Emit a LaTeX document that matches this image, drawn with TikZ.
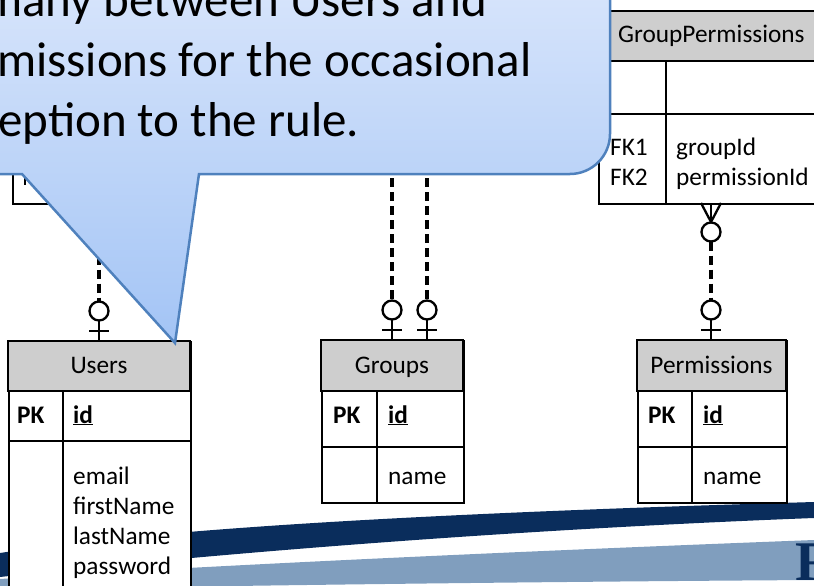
\documentclass[tikz,border=0pt]{standalone}
\usepackage{fontspec}
\setmainfont{Carlito}
\newfontfamily\serifF{Liberation Serif}
\usetikzlibrary{calc}
\definecolor{calloutBorder}{RGB}{79,129,189}
\definecolor{calloutTop}{RGB}{230,238,253}
\definecolor{calloutBot}{RGB}{163,196,245}
\definecolor{navy}{RGB}{10,45,92}
\definecolor{steel}{RGB}{128,158,190}
\definecolor{hdr}{RGB}{206,206,206}
\newcommand\ZeroOne[2]{%
  \draw[sym] (#1,#2) -- (#1,#2-20.5);
  \draw[sym] (#1-10,#2-10) -- (#1+10,#2-10);
  \draw[sym, fill=white] (#1,#2-30) circle[radius=9.5pt];
}
\newcommand\ZeroMany[2]{%
  \draw[sym] (#1-10,#2) -- (#1,#2+19);
  \draw[sym] (#1,#2) -- (#1,#2+19.5);
  \draw[sym] (#1+10,#2) -- (#1,#2+19);
  \draw[sym, fill=white] (#1,#2+29) circle[radius=9.5pt];
}
\begin{document}
\begin{tikzpicture}[x=1pt,y=-1pt,
  tline/.style={line width=1.6pt, draw=black},
  tblbox/.style={tline, fill=white, rectangle, inner sep=0pt, anchor=north west},
  conn/.style={line width=3.4pt, dash pattern=on 9pt off 5pt},
  sym/.style={line width=2.3pt},
  cell/.style={font=\fontsize{25.3}{30}\selectfont, inner sep=0pt, anchor=base west},
  hcell/.style={font=\fontsize{25.3}{30}\selectfont, inner sep=0pt, anchor=base},
  big/.style={font=\fontsize{49}{58}\selectfont, inner sep=0pt, anchor=base west}]
\useasboundingbox (0,0) rectangle (814,586);
\clip (0,0) rectangle (814,586);

% background swoosh
\fill[steel] (0,579) .. controls (200,566) and (500,552) .. (814,540)
  -- (814,580) .. controls (500,582) and (200,586) .. (0,590) -- cycle;
\fill[navy] (0,553) .. controls (150,530) and (400,514) .. (814,502)
  -- (814,518) .. controls (500,530) and (200,555) .. (0,577) -- cycle;
\node[anchor=base west, inner sep=0pt, text=navy, font=\serifF\bfseries\fontsize{56}{60}\selectfont] (logoF) at (795,580) {F};

% hidden table (under callout)
\node[tblbox, minimum width=174pt, minimum height=192pt] (ug) at (12,11) {};
\draw[line width=2pt] (25,176) -- (25,185);

% GroupPermissions
\node[tblbox, minimum width=232pt, minimum height=192pt] (gp) at (598,11) {};
\filldraw[tline, fill=hdr] (598,11) rectangle (830,61);
\draw[tline] (598,114) -- (830,114);
\draw[tline] (666,61) -- (666,203);
\node[cell] at (618,43) {GroupPermissions};
\node[cell] at (610,155) {FK1};
\node[cell] at (610,185) {FK2};
\node[cell] at (676,155) {groupId};
\node[cell] at (676,185) {permissionId};

% Users
\node[tblbox, minimum width=182pt, minimum height=320pt] (users) at (8,341) {};
\filldraw[tline, fill=hdr] (8,341) rectangle (190,391);
\draw[tline] (8,441) -- (190,441);
\draw[tline] (63,391) -- (63,661);
\node[hcell] at (99,373) {Users};
\node[cell] at (17,423) {\bfseries PK};
\node[cell] at (73,423) {\bfseries\underline{id}};
\node[cell] at (73,484) {email};
\node[cell] at (73,514) {firstName};
\node[cell] at (73,544) {lastName};
\node[cell] at (73,574) {password};

% Groups
\node[tblbox, minimum width=142pt, minimum height=162pt] (groups) at (321,340) {};
\filldraw[tline, fill=hdr] (321,340) rectangle (463,391);
\draw[tline] (321,447) -- (463,447);
\draw[tline] (377,391) -- (377,502);
\node[hcell] at (392,373) {Groups};
\node[cell] at (333,423) {\bfseries PK};
\node[cell] at (388,423) {\bfseries\underline{id}};
\node[cell] at (388,484) {name};

% Permissions
\node[tblbox, minimum width=149pt, minimum height=162pt] (perms) at (637,340) {};
\filldraw[tline, fill=hdr] (637,340) rectangle (786,391);
\draw[tline] (637,447) -- (786,447);
\draw[tline] (692,391) -- (692,502);
\node[hcell] at (711.5,373) {Permissions};
\node[cell] at (648,423) {\bfseries PK};
\node[cell] at (703,423) {\bfseries\underline{id}};
\node[cell] at (703,484) {name};

% connectors
\coordinate (ugFoot) at (99,241.5);
\coordinate (uCirc) at (99,301.5);
\coordinate (gA) at (392,150);
\coordinate (gB) at (427,150);
\coordinate (gACirc) at (392,300.5);
\coordinate (gBCirc) at (427,300.5);
\coordinate (gpFoot) at (711,241.5);
\coordinate (pCirc) at (711,300.5);
\draw[conn] (ugFoot) -- (uCirc);
\draw[conn] (gA) -- (gACirc);
\draw[conn] (gB) -- (gBCirc);
\draw[conn] (gpFoot) -- (pCirc);
\ZeroMany{99}{203}
\ZeroMany{711}{203}
\ZeroOne{99}{341}
\ZeroOne{392}{340}
\ZeroOne{427}{340}
\ZeroOne{711}{340}

% callout
\draw[calloutBorder, line width=2.5pt, top color=calloutTop, bottom color=calloutBot]
  (-300,-120) -- (610,-120) -- (610,134)
  .. controls (610,156) and (592,174) .. (570,174)
  -- (199,174) -- (175,343) -- (22,174) -- (-300,174) -- cycle;
\node[big] (t1) at (-17,17) {many between Users and};
\node[big] (t2) at (-3,77) {missions for the occasional};
\node[big] (t3) at (-2,136) {eption to the rule.};
\end{tikzpicture}
\end{document}
